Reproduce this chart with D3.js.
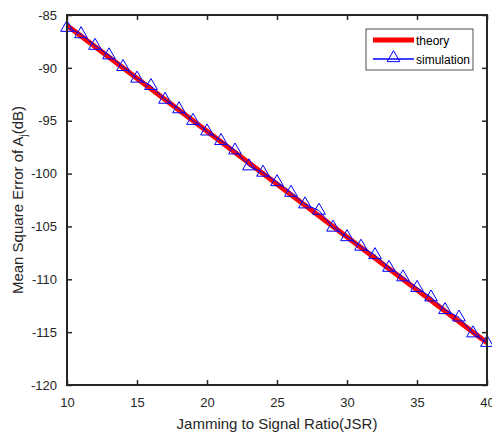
<!DOCTYPE html>
<html>
<head>
<meta charset="utf-8">
<script src="https://cdn.jsdelivr.net/npm/d3@7"></script>
<style>
  body { margin: 0; background: #fff; }
  svg { font-family: "Liberation Sans", Arial, sans-serif; }
</style>
</head>
<body>
<div id="chart"></div>
<script>
const jsr = d3.range(10, 41);
const theory = [-86, -116];
const theoryX = [10, 40];
const simulation = [-86.2, -86.8, -87.9, -88.8, -89.9, -91.0, -91.7, -93.0, -93.9, -95.0,
  -96.0, -96.9, -97.8, -99.3, -99.9, -100.8, -101.8, -102.9, -103.5, -105.1,
  -106.0, -106.9, -107.7, -108.9, -109.8, -110.8, -111.7, -112.9, -113.6, -115.1, -116.0];
const xTicks = [10, 15, 20, 25, 30, 35, 40];
const yTicks = [-120, -115, -110, -105, -100, -95, -90, -85];

const width = 492, height = 433;
const margin = {top: 15, right: 5, bottom: 48, left: 67};

const svg = d3.select("#chart").append("svg")
  .attr("width", width)
  .attr("height", height);

const x = d3.scaleLinear().domain([10, 40]).range([margin.left, width - margin.right]);
const y = d3.scaleLinear().domain([-120, -85]).range([height - margin.bottom, margin.top]);

const axisColor = "#262626";
const fmt = d => String(d);

// plot area lines
const line = d3.line().x(d => x(d[0])).y(d => y(d[1]));
svg.append("path")
  .datum(theoryX.map((v, i) => [v, theory[i]]))
  .attr("d", line)
  .attr("fill", "none")
  .attr("stroke", "#ff0000")
  .attr("stroke-width", 5);

svg.append("path")
  .datum(jsr.map((v, i) => [v, simulation[i]]))
  .attr("d", line)
  .attr("fill", "none")
  .attr("stroke", "#0000ff")
  .attr("stroke-width", 1);

const tri = d3.symbol().type(d3.symbolTriangle).size(70);
svg.append("g")
  .selectAll("path")
  .data(jsr)
  .enter()
  .append("path")
  .attr("d", tri)
  .attr("transform", (d, i) => `translate(${x(d)},${y(simulation[i])})`)
  .attr("fill", "none")
  .attr("stroke", "#0000ff")
  .attr("stroke-width", 1);

// axes
function styleAxis(g) {
  g.select(".domain").remove();
  g.selectAll(".tick line").attr("stroke", axisColor).attr("stroke-width", 1.5);
  g.selectAll(".tick text").attr("fill", axisColor).style("font-size", "13px");
}

svg.append("g")
  .attr("transform", `translate(0,${y(-120)})`)
  .call(d3.axisBottom(x).tickValues(xTicks).tickFormat(fmt).tickSizeInner(-5).tickSizeOuter(0).tickPadding(13))
  .call(styleAxis);

svg.append("g")
  .attr("transform", `translate(0,${y(-85)})`)
  .call(d3.axisTop(x).tickValues(xTicks).tickSizeInner(-5).tickSizeOuter(0).tickFormat(""))
  .call(styleAxis);

svg.append("g")
  .attr("transform", `translate(${x(10)},0)`)
  .call(d3.axisLeft(y).tickValues(yTicks).tickFormat(fmt).tickSizeInner(-5).tickSizeOuter(0).tickPadding(10))
  .call(styleAxis);

svg.append("g")
  .attr("transform", `translate(${x(40)},0)`)
  .call(d3.axisRight(y).tickValues(yTicks).tickSizeInner(-5).tickSizeOuter(0).tickFormat(""))
  .call(styleAxis);

svg.append("rect")
  .attr("x", x(10))
  .attr("y", y(-85))
  .attr("width", x(40) - x(10))
  .attr("height", y(-120) - y(-85))
  .attr("fill", "none")
  .attr("stroke", axisColor)
  .attr("stroke-width", 2);

// axis labels
svg.append("text")
  .attr("x", (x(10) + x(40)) / 2)
  .attr("y", 429)
  .attr("text-anchor", "middle")
  .attr("fill", axisColor)
  .style("font-size", "15px")
  .text("Jamming to Signal Ratio(JSR)");

const yl = svg.append("text")
  .attr("transform", `translate(23,${(y(-85) + y(-120)) / 2}) rotate(-90)`)
  .attr("text-anchor", "middle")
  .attr("fill", axisColor)
  .style("font-size", "15px");
yl.append("tspan").text("Mean Square Error of A");
yl.append("tspan").attr("dy", 4).style("font-size", "10px").text("j");
yl.append("tspan").attr("dy", -4).text("(dB)");

// legend
const legend = svg.append("g").attr("transform", "translate(366,29)");
legend.append("rect")
  .attr("width", 107)
  .attr("height", 41)
  .attr("fill", "#fff")
  .attr("stroke", "#262626")
  .attr("stroke-width", 0.8);

legend.append("line")
  .attr("x1", 7).attr("x2", 48).attr("y1", 11).attr("y2", 11)
  .attr("stroke", "#ff0000").attr("stroke-width", 5);
legend.append("text")
  .attr("x", 50).attr("y", 15.5)
  .attr("fill", "#000")
  .style("font-size", "12px")
  .text("theory");

legend.append("line")
  .attr("x1", 7).attr("x2", 48).attr("y1", 30).attr("y2", 30)
  .attr("stroke", "#0000ff").attr("stroke-width", 1.5);
legend.append("path")
  .attr("d", tri)
  .attr("transform", "translate(27.5,29)")
  .attr("fill", "none")
  .attr("stroke", "#0000ff");
legend.append("text")
  .attr("x", 50).attr("y", 34.5)
  .attr("fill", "#000")
  .style("font-size", "12px")
  .text("simulation");
</script>
</body>
</html>
